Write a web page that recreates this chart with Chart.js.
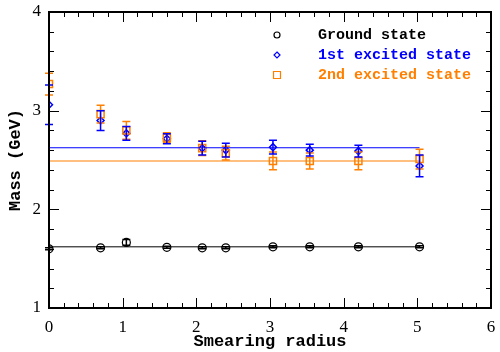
<!DOCTYPE html>
<html>
<head>
<meta charset="utf-8">
<script src="https://cdn.jsdelivr.net/npm/chart.js@4"></script>
<style>
  html, body { margin: 0; padding: 0; background: #fff; }
  #wrap { width: 500px; height: 352px; }
</style>
</head>
<body>
<div id="wrap"><canvas id="massChart" width="500" height="352"></canvas></div>
<script>
const radius = [0, 0.7, 1.05, 1.6, 2.08, 2.4, 3.04, 3.54, 4.2, 5.03];

const groundMass = [1.60, 1.61, 1.665, 1.615, 1.61, 1.61, 1.62, 1.62, 1.62, 1.62];
const groundErr  = [0.01, 0.01, 0.03, 0.01, 0.01, 0.01, 0.01, 0.01, 0.01, 0.01];

const firstMass = [3.06, 2.90, 2.77, 2.715, 2.62, 2.60, 2.63, 2.60, 2.59, 2.44];
const firstErr  = [0.20, 0.10, 0.07, 0.05, 0.07, 0.07, 0.07, 0.06, 0.06, 0.11];

const secondMass = [3.27, 2.965, 2.80, 2.725, 2.62, 2.57, 2.49, 2.49, 2.49, 2.51];
const secondErr  = [0.11, 0.09, 0.09, 0.05, 0.075, 0.07, 0.09, 0.08, 0.09, 0.10];

// constant fits over the whole range
const fitRange = [0, 5.03];
const groundFit = 1.62;
const firstFit = 2.624;
const secondFit = 2.49;

const xTicks = [0, 1, 2, 3, 4, 5, 6];
const yTicks = [1, 2, 3, 4];

const legendNames = ['Ground state', '1st excited state', '2nd excited state'];

const BLACK = '#000000';
const BLUE = '#0000ff';
const ORANGE = '#ff8000';

const pts = (xs, ys) => xs.map((x, i) => ({ x: x, y: ys[i] }));
const fitLine = v => fitRange.map(x => ({ x: x, y: v }));

// error bars
const errorBars = {
    id: 'errorBars',
    afterDatasetsDraw(chart) {
        const { ctx, scales: { x, y } } = chart;
        const sets = [
            [groundMass, groundErr, BLACK],
            [secondMass, secondErr, ORANGE],
            [firstMass, firstErr, BLUE]
        ];
        ctx.save();
        ctx.lineWidth = 1.5;
        sets.forEach(([vals, errs, col]) => {
            ctx.strokeStyle = col;
            vals.forEach((v, i) => {
                const px = x.getPixelForValue(radius[i]);
                const top = y.getPixelForValue(v + errs[i]);
                const bot = y.getPixelForValue(v - errs[i]);
                ctx.beginPath();
                ctx.moveTo(px, top); ctx.lineTo(px, bot);
                ctx.moveTo(px - 4, top); ctx.lineTo(px + 4, top);
                ctx.moveTo(px - 4, bot); ctx.lineTo(px + 4, bot);
                ctx.stroke();
            });
        });
        ctx.restore();
    }
};

// box frame with inward major/minor ticks on all sides
const frameTicks = {
    id: 'frameTicks',
    afterDraw(chart) {
        const { ctx, chartArea: a, scales: { x, y } } = chart;
        ctx.save();
        ctx.strokeStyle = '#000';
        ctx.lineWidth = 2;
        ctx.strokeRect(a.left, a.top, a.right - a.left, a.bottom - a.top);
        ctx.lineWidth = 1;
        ctx.beginPath();
        for (let k = 0; k <= 30; k++) {
            const v = x.min + k * 0.2;
            const px = Math.round(x.getPixelForValue(v)) + 0.5;
            const len = k % 5 === 0 ? 10 : 5;
            ctx.moveTo(px, a.bottom); ctx.lineTo(px, a.bottom - len);
            ctx.moveTo(px, a.top); ctx.lineTo(px, a.top + len);
        }
        for (let k = 0; k <= 15; k++) {
            const v = y.min + k * 0.2;
            const py = Math.round(y.getPixelForValue(v)) + 0.5;
            const len = k % 5 === 0 ? 10 : 5;
            ctx.moveTo(a.left, py); ctx.lineTo(a.left + len, py);
            ctx.moveTo(a.right, py); ctx.lineTo(a.right - len, py);
        }
        ctx.stroke();

        // legend inside plot
        const cols = [BLACK, BLUE, ORANGE];
        ctx.font = 'bold 15px "Liberation Mono", monospace';
        ctx.textBaseline = 'middle';
        legendNames.forEach((name, i) => {
            const cy = 35 + i * 20;
            ctx.strokeStyle = cols[i];
            ctx.lineWidth = 1.2;
            ctx.beginPath();
            if (i === 0) {
                ctx.arc(277, cy, 3, 0, Math.PI * 2);
            } else if (i === 1) {
                ctx.moveTo(277, cy - 3); ctx.lineTo(280, cy); ctx.lineTo(277, cy + 3); ctx.lineTo(274, cy); ctx.closePath();
            } else {
                ctx.rect(273.5, cy - 3.5, 7, 7);
            }
            ctx.stroke();
            ctx.fillStyle = cols[i];
            ctx.fillText(name, 318, cy);
        });
        ctx.restore();
    }
};

const noOverflow = s => { s.paddingTop = 0; s.paddingBottom = 0; s.paddingLeft = 0; s.paddingRight = 0; };

new Chart(document.getElementById('massChart').getContext('2d'), {
    type: 'scatter',
    data: {
        datasets: [
            { data: fitLine(groundFit), showLine: true, borderColor: BLACK, borderWidth: 1, pointRadius: 0 },
            { data: fitLine(firstFit), showLine: true, borderColor: BLUE, borderWidth: 1, pointRadius: 0 },
            { data: fitLine(secondFit), showLine: true, borderColor: ORANGE, borderWidth: 1.2, pointRadius: 0 },
            { data: pts(radius, groundMass), pointStyle: 'circle', pointRadius: 4, borderColor: BLACK, borderWidth: 1.2, backgroundColor: 'rgba(0,0,0,0)' },
            { data: pts(radius, secondMass), pointStyle: 'rect', pointRadius: 5, borderColor: ORANGE, borderWidth: 1.5, backgroundColor: 'rgba(0,0,0,0)' },
            { data: pts(radius, firstMass), pointStyle: 'rectRot', pointRadius: 3.5, borderColor: BLUE, borderWidth: 1.5, backgroundColor: 'rgba(0,0,0,0)' }
        ]
    },
    options: {
        responsive: false,
        animation: false,
        layout: { padding: { top: 12, right: 9, left: 0, bottom: 0 } },
        plugins: { legend: { display: false }, tooltip: { enabled: false } },
        scales: {
            x: {
                type: 'linear', min: 0, max: 6,
                afterBuildTicks: s => { s.ticks = xTicks.map(v => ({ value: v })); },
                afterFit: s => { s.height = 44; noOverflow(s); },
                grid: { display: false, drawTicks: false },
                border: { display: false },
                ticks: { color: '#000', padding: 9, font: { family: '"Liberation Serif", serif', size: 17 } },
                title: { display: true, text: 'Smearing radius', color: '#000', padding: { top: 0, bottom: 0 },
                    font: { family: '"Liberation Mono", monospace', size: 17, weight: 'bold' } }
            },
            y: {
                type: 'linear', min: 1, max: 4,
                afterBuildTicks: s => { s.ticks = yTicks.map(v => ({ value: v })); },
                afterFit: s => { s.width = 49; noOverflow(s); },
                grid: { display: false, drawTicks: false },
                border: { display: false },
                ticks: { color: '#000', padding: 8, font: { family: '"Liberation Serif", serif', size: 17 } },
                title: { display: true, text: 'Mass (GeV)', color: '#000', padding: { top: 6, bottom: 4 },
                    font: { family: '"Liberation Mono", monospace', size: 17, weight: 'bold' } }
            }
        }
    },
    plugins: [errorBars, frameTicks]
});
</script>
</body>
</html>
